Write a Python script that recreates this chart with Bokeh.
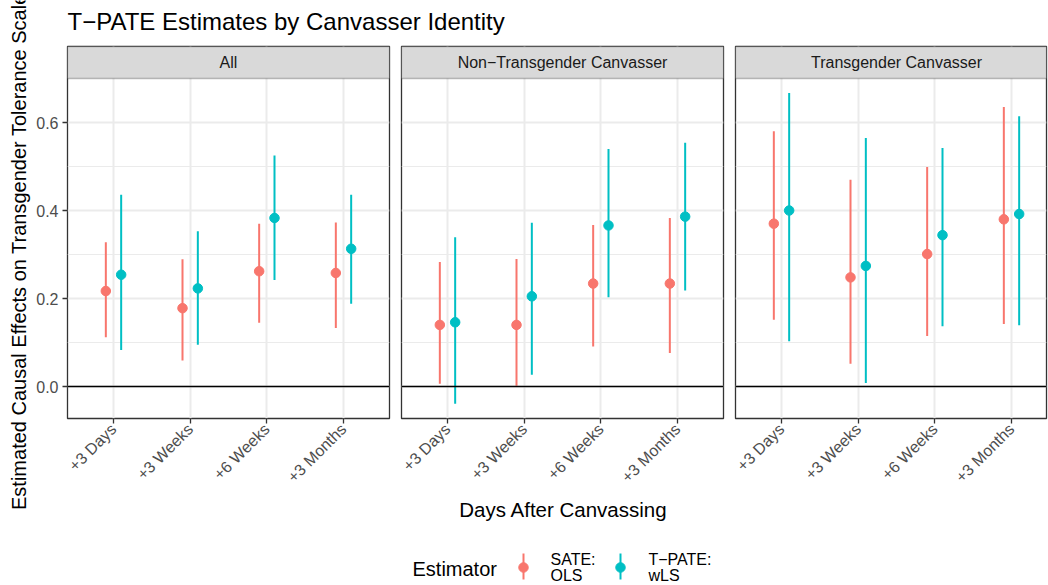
import math
from bokeh.plotting import figure
from bokeh.models import (ColumnDataSource, Range1d, FixedTicker, Span, BoxAnnotation,
                          Label, PrintfTickFormatter)
from bokeh.layouts import row, column
from bokeh.transform import dodge
from bokeh.core.properties import value
from bokeh.embed import file_html
from bokeh.resources import INLINE

FONT = "Liberation Sans"

# ---------------- data ----------------
title_text = "T\u2212PATE Estimates by Canvasser Identity"
y_label = "Estimated Causal Effects on Transgender Tolerance Scale"
x_label = "Days After Canvassing"
legend_title = "Estimator"
facets = ["All", "Non\u2212Transgender Canvasser", "Transgender Canvasser"]
periods = ["+3 Days", "+3 Weeks", "+6 Weeks", "+3 Months"]
estimators = ["SATE:\nOLS", "T\u2212PATE:\nwLS"]
colors = ["#F8766D", "#00BFC4"]
y_ticks = [0.0, 0.2, 0.4, 0.6]
y_minor = [0.1, 0.3, 0.5]
hline_y = 0.0

# All
all_sate_est = [0.217, 0.178, 0.262, 0.258]
all_sate_lo = [0.112, 0.059, 0.145, 0.133]
all_sate_hi = [0.328, 0.289, 0.370, 0.373]
all_tpate_est = [0.254, 0.223, 0.383, 0.313]
all_tpate_lo = [0.083, 0.095, 0.242, 0.188]
all_tpate_hi = [0.436, 0.353, 0.525, 0.436]
# Non-Transgender canvasser
non_sate_est = [0.140, 0.140, 0.234, 0.234]
non_sate_lo = [0.006, 0.002, 0.091, 0.076]
non_sate_hi = [0.283, 0.290, 0.367, 0.383]
non_tpate_est = [0.146, 0.205, 0.366, 0.386]
non_tpate_lo = [-0.039, 0.027, 0.203, 0.218]
non_tpate_hi = [0.339, 0.372, 0.540, 0.554]
# Transgender canvasser
tr_sate_est = [0.370, 0.248, 0.301, 0.380]
tr_sate_lo = [0.152, 0.052, 0.115, 0.142]
tr_sate_hi = [0.580, 0.470, 0.499, 0.635]
tr_tpate_est = [0.400, 0.274, 0.344, 0.392]
tr_tpate_lo = [0.103, 0.008, 0.137, 0.139]
tr_tpate_hi = [0.667, 0.565, 0.542, 0.614]

panel_data = [
    ((all_sate_est, all_sate_lo, all_sate_hi), (all_tpate_est, all_tpate_lo, all_tpate_hi)),
    ((non_sate_est, non_sate_lo, non_sate_hi), (non_tpate_est, non_tpate_lo, non_tpate_hi)),
    ((tr_sate_est, tr_sate_lo, tr_sate_hi), (tr_tpate_est, tr_tpate_lo, tr_tpate_hi)),
]

# ---------------- style / layout ----------------
GRID = "#EBEBEB"
DARK = "#333333"
TICKTXT = "#4D4D4D"
SMALL = "16px"
FRAME_H = 372
STRIP_PX = 32
PANEL_PX = FRAME_H - STRIP_PX
Y_LO, Y_HI = -0.0727, 0.70
units_per_px = (Y_HI - Y_LO) / PANEL_PX
Y_TOP = Y_HI + STRIP_PX * units_per_px
X_LO, X_HI = 0.4, 4.6
FULL_W = 322
px_per_unit = FULL_W / (X_HI - X_LO)
DODGE = 0.1

xs = [i + 1 for i in range(len(periods))]


def make_panel(idx, frame_w, left_axis):
    x_end = X_LO + frame_w / px_per_unit
    p = figure(frame_width=frame_w, frame_height=FRAME_H,
               x_range=Range1d(X_LO, x_end), y_range=Range1d(Y_LO, Y_TOP),
               output_backend="svg", toolbar_location=None,
               min_border_top=1, min_border_bottom=78,
               min_border_left=35 if left_axis else 10, min_border_right=2,
               y_axis_location="left" if left_axis else None)
    p.outline_line_color = DARK
    p.outline_line_width = 1.3
    p.background_fill_color = "white"
    p.border_fill_color = "white"

    # grids
    p.xgrid.ticker = FixedTicker(ticks=xs)
    p.xgrid.grid_line_color = GRID
    p.xgrid.grid_line_width = 2
    p.ygrid.ticker = FixedTicker(ticks=y_ticks, minor_ticks=y_minor)
    p.ygrid.grid_line_color = GRID
    p.ygrid.grid_line_width = 2
    p.ygrid.minor_grid_line_color = GRID
    p.ygrid.minor_grid_line_width = 1

    # x axis
    xa = p.xaxis[0]
    xa.ticker = FixedTicker(ticks=xs)
    xa.major_label_overrides = {x: lab for x, lab in zip(xs, periods)}
    xa.major_label_orientation = math.pi / 4
    xa.axis_line_color = None
    xa.major_tick_line_color = DARK
    xa.major_tick_line_width = 1.3
    xa.major_tick_out = 5
    xa.major_tick_in = 0
    xa.minor_tick_line_color = None
    xa.major_label_text_font = FONT
    xa.major_label_text_font_size = SMALL
    xa.major_label_text_color = TICKTXT
    xa.major_label_standoff = 3

    if left_axis:
        ya = p.yaxis[0]
        ya.ticker = FixedTicker(ticks=y_ticks)
        ya.formatter = PrintfTickFormatter(format="%.1f")
        ya.axis_line_color = None
        ya.major_tick_line_color = DARK
        ya.major_tick_line_width = 1.3
        ya.major_tick_out = 5
        ya.major_tick_in = 0
        ya.minor_tick_line_color = None
        ya.major_label_text_font = FONT
        ya.major_label_text_font_size = SMALL
        ya.major_label_text_color = TICKTXT
        ya.major_label_standoff = 4

    p.add_layout(Span(location=hline_y, dimension="width", line_color="black", line_width=1.6))

    offsets = [-DODGE, DODGE]
    for (est, lo, hi), off, col in zip(panel_data[idx], offsets, colors):
        src = ColumnDataSource(dict(x=xs, est=est, lo=lo, hi=hi))
        xd = dodge("x", off, range=p.x_range)
        p.segment(x0=xd, y0="lo", x1=xd, y1="hi", source=src, line_color=col, line_width=2)
        p.scatter(x=xd, y="est", source=src, size=9.5, fill_color=col, line_color=col)

    # facet strip
    p.add_layout(BoxAnnotation(bottom=Y_HI, fill_color="#D9D9D9", fill_alpha=1.0,
                               line_color=DARK, line_width=1.3))
    p.add_layout(Label(x=(X_LO + X_HI) / 2, y=(Y_HI + Y_TOP) / 2, text=facets[idx],
                       text_align="center", text_baseline="middle",
                       text_font=FONT, text_font_size=SMALL, text_color="#1A1A1A"))
    return p


def blank(w, h, xr, yr):
    f = figure(width=w, height=h, x_range=Range1d(*xr), y_range=Range1d(*yr),
               output_backend="svg", toolbar_location=None, min_border=0,
               x_axis_location=None, y_axis_location=None)
    f.grid.visible = False
    f.outline_line_color = None
    return f


p1 = make_panel(0, FULL_W, True)
p2 = make_panel(1, FULL_W, False)
p3 = make_panel(2, 311, False)

# y-axis title (left strip)
ylab = blank(32, 585, (0, 32), (585, 0))
ylab.text(x=[18], y=[251], text=[y_label], angle=math.pi / 2, text_align="center",
          text_baseline="middle", text_font=value(FONT), text_font_size="20px",
          text_color="black")

# header with plot title
header = blank(1016, 45, (32, 1048), (45, 0))
header.text(x=[67], y=[21], text=[title_text], text_align="left",
            text_baseline="middle", text_font=value(FONT), text_font_size="24px",
            text_color="black")

# bottom: x-axis title + legend
bottom = blank(1016, 89, (32, 1048), (585, 496))
bottom.text(x=[563], y=[509], text=[x_label], text_align="center",
            text_baseline="middle", text_font=value(FONT), text_font_size="20.5px",
            text_color="black")
bottom.text(x=[412], y=[568], text=[legend_title], text_align="left",
            text_baseline="middle", text_font=value(FONT), text_font_size="20px",
            text_color="black")
key_x = [523, 620]
lab_x = [550, 648]
key_src = ColumnDataSource(dict(kx=key_x, lx=lab_x, y0=[553, 553], y1=[579, 579],
                                ym=[567, 567], c=colors, t=estimators))
bottom.segment(x0="kx", y0="y0", x1="kx", y1="y1", source=key_src, line_color="c", line_width=2)
bottom.scatter(x="kx", y="ym", source=key_src, size=9.5, fill_color="c", line_color="c")
bottom.text(x="lx", y="ym", text="t", source=key_src, text_align="left",
            text_baseline="middle", text_font=value(FONT), text_font_size=SMALL,
            text_line_height=0.92, text_color="black")

layout = row(ylab, column(header, row(p1, p2, p3), bottom))

open("out.html", "w").write(file_html(layout, INLINE))
